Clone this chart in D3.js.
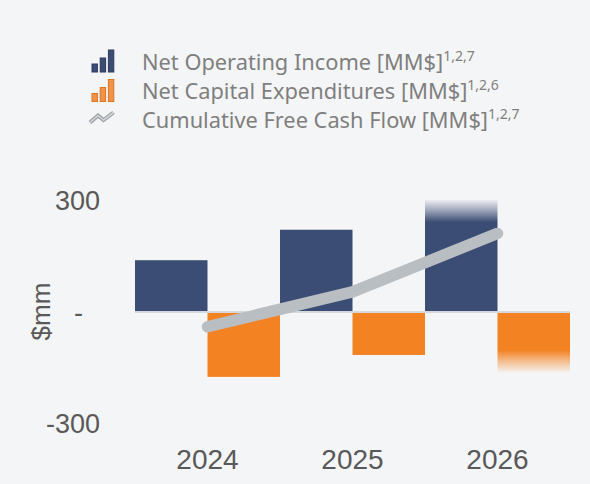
<!DOCTYPE html>
<html>
<head>
<meta charset="utf-8">
<script src="https://cdn.jsdelivr.net/npm/d3@7/dist/d3.min.js"></script>
<style>
  html, body { margin: 0; padding: 0; background: #f4f5f7; }
  svg { display: block; }
</style>
</head>
<body>
<svg id="chart" width="590" height="484"></svg>
<script>
const categories = ["2024", "2025", "2026"];
const netOperatingIncome = [138, 220, 300];
const netCapitalExpenditures = [-176, -117, -163];
const cumulativeFreeCashFlow = [-41, 53, 210];
const yTicks = [-300, 0, 300];
const legendLabels = [
  { text: "Net Operating Income [MM$]", sup: "1,2,7" },
  { text: "Net Capital Expenditures [MM$]", sup: "1,2,6" },
  { text: "Cumulative Free Cash Flow [MM$]", sup: "1,2,7" }
];
const fadedCategory = "2026";

const navy = "#3b4d74", orange = "#f38222", lineGray = "#b9bec2", bg = "#f4f5f7";
const svg = d3.select("#chart");
svg.append("rect").attr("width", 590).attr("height", 484).attr("fill", bg);

const x = d3.scaleBand().domain(categories).range([135, 570]).paddingInner(0).paddingOuter(0);
const xs = d3.scaleBand().domain(["noi", "capex"]).range([0, x.bandwidth()]).padding(0);
const y = d3.scaleLinear().domain([-300, 300]).range([423, 200]);

const defs = svg.append("defs");
const fadeLen = 22;
function fadeGrad(id, color, yFrom, yTo) {
  const g = defs.append("linearGradient").attr("id", id)
    .attr("gradientUnits", "userSpaceOnUse")
    .attr("x1", 0).attr("x2", 0).attr("y1", yFrom).attr("y2", yTo);
  g.append("stop").attr("offset", 0).attr("stop-color", color).attr("stop-opacity", 0.05);
  g.append("stop").attr("offset", 0.45).attr("stop-color", color).attr("stop-opacity", 0.45);
  g.append("stop").attr("offset", 1).attr("stop-color", color).attr("stop-opacity", 1);
}

const data = categories.map((c, i) => ({
  cat: c, noi: netOperatingIncome[i], capex: netCapitalExpenditures[i], fcf: cumulativeFreeCashFlow[i]
}));

// baseline
svg.append("line")
  .attr("x1", x.range()[0]).attr("x2", x.range()[1])
  .attr("y1", y(0) + 0.5).attr("y2", y(0) + 0.5)
  .attr("stroke", "#d5d8dd").attr("stroke-width", 2);

const groups = svg.append("g").selectAll("g").data(data).join("g")
  .attr("transform", d => `translate(${x(d.cat)},0)`);

groups.each(function(d, i) {
  const g = d3.select(this);
  let noiFill = navy, capFill = orange;
  if (d.cat === fadedCategory) {
    fadeGrad("fadeNoi" + i, navy, y(d.noi), y(d.noi) + fadeLen);
    fadeGrad("fadeCap" + i, orange, y(d.capex), y(d.capex) - fadeLen);
    noiFill = `url(#fadeNoi${i})`;
    capFill = `url(#fadeCap${i})`;
  }
  g.append("rect")
    .attr("x", xs("noi")).attr("width", xs.bandwidth())
    .attr("y", y(Math.max(0, d.noi))).attr("height", Math.abs(y(d.noi) - y(0)) - 0.5)
    .attr("fill", noiFill);
  g.append("rect")
    .attr("x", xs("capex")).attr("width", xs.bandwidth())
    .attr("y", y(0) + 1.5).attr("height", Math.abs(y(d.capex) - y(0)) - 1.5)
    .attr("fill", capFill);
});

// line
const line = d3.line()
  .x(d => x(d.cat) + x.bandwidth() / 2)
  .y(d => y(d.fcf));
svg.append("path").datum(data)
  .attr("d", line)
  .attr("fill", "none")
  .attr("stroke", lineGray)
  .attr("stroke-width", 11.5)
  .attr("stroke-linecap", "round")
  .attr("stroke-linejoin", "round");

// y axis
const yAxis = svg.append("g").attr("transform", "translate(135,0)")
  .call(d3.axisLeft(y).tickValues(yTicks).tickSize(0).tickPadding(35)
    .tickFormat(d => d === 0 ? "-" : String(d)));
yAxis.select(".domain").remove();
yAxis.selectAll("text")
  .attr("font-family", "Liberation Sans, Arial, sans-serif")
  .attr("font-size", 27).attr("fill", "#595959").attr("dy", "0.36em");
yAxis.selectAll(".tick").filter(d => d === 0).select("text").attr("dx", -17);

// x axis
const xAxis = svg.append("g").attr("transform", `translate(0,${y(-300)})`)
  .call(d3.axisBottom(x).tickSize(0).tickPadding(26));
xAxis.select(".domain").remove();
xAxis.selectAll("text")
  .attr("font-family", "Liberation Sans, Arial, sans-serif")
  .attr("font-size", 28).attr("fill", "#595959");

// y label
svg.append("text")
  .attr("transform", `translate(50,${y(0)}) rotate(-90)`)
  .attr("text-anchor", "middle")
  .attr("font-family", "Liberation Sans, Arial, sans-serif")
  .attr("font-size", 26).attr("fill", "#595959")
  .text("$mm");

// legend
const legend = svg.append("g");
const rowY = [70, 99, 128];
legendLabels.forEach((l, i) => {
  const t = legend.append("text")
    .attr("x", 142).attr("y", rowY[i])
    .attr("font-family", "Noto Sans, Open Sans, sans-serif")
    .attr("font-size", 21.8).attr("fill", "#7f7f7f");
  t.append("tspan").text(l.text);
  t.append("tspan").attr("dy", -9).attr("font-size", 14).text(l.sup);
});
// bar icons
function barIcon(yBase, fill, stroke) {
  const hs = [8, 14, 22];
  hs.forEach((h, k) => {
    legend.append("rect")
      .attr("x", 92 + k * 8.2).attr("y", yBase - h).attr("width", 5.4).attr("height", h)
      .attr("fill", fill).attr("stroke", stroke).attr("stroke-width", 1);
  });
}
barIcon(72, navy, "#2c3a5a");
barIcon(101.5, "#f0934a", "#de7520");
// line icon
legend.append("path")
  .attr("d", "M90,122.5 L98,115.5 L103.5,120 L113.5,112.5")
  .attr("fill", "none").attr("stroke", "#9a9fa4").attr("stroke-width", 4)
  .attr("stroke-linejoin", "miter");
legend.append("path")
  .attr("d", "M90,122.5 L98,115.5 L103.5,120 L113.5,112.5")
  .attr("fill", "none").attr("stroke", "#d4d7da").attr("stroke-width", 1.6);
</script>
</body>
</html>
